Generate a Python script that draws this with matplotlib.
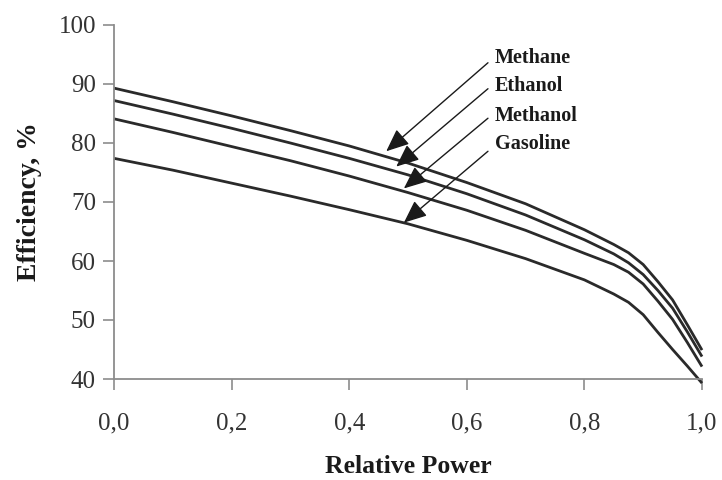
import matplotlib
matplotlib.use("Agg")
import matplotlib.pyplot as plt
from matplotlib.ticker import FuncFormatter

plt.rcParams['font.family'] = ['Liberation Serif', 'DejaVu Serif']

# Relative power (fraction of rated power)
power = [0.0, 0.1, 0.2, 0.3, 0.4, 0.5, 0.6, 0.7, 0.8, 0.85, 0.875, 0.9, 0.925, 0.95, 0.975, 1.0]

# Efficiency, % for each fuel
methane  = [89.3, 87.0, 84.6, 82.1, 79.5, 76.6, 73.3, 69.7, 65.3, 62.8, 61.4, 59.4, 56.5, 53.4, 49.2, 44.9]
ethanol  = [87.2, 84.9, 82.5, 80.0, 77.4, 74.6, 71.4, 67.8, 63.6, 61.2, 59.7, 57.7, 55.0, 52.0, 48.0, 43.8]
methanol = [84.1, 81.8, 79.4, 77.0, 74.4, 71.6, 68.6, 65.2, 61.3, 59.4, 58.1, 56.1, 53.2, 50.1, 46.2, 42.1]
gasoline = [77.4, 75.4, 73.2, 71.0, 68.7, 66.3, 63.5, 60.4, 56.8, 54.4, 53.0, 50.9, 47.9, 45.0, 42.2, 39.3]

fuel_names = ["Methane", "Ethanol", "Methanol", "Gasoline"]
series = [methane, ethanol, methanol, gasoline]

x_ticks = [0.0, 0.2, 0.4, 0.6, 0.8, 1.0]
y_ticks = [40, 50, 60, 70, 80, 90, 100]

fig = plt.figure(figsize=(7.22, 4.80), dpi=100)
ax = fig.add_axes([114 / 722, 101 / 480, 588 / 722, 354 / 480])

for values in series:
    ax.plot(power, values, color="#2a2a2a", lw=2.0, clip_on=False,
            solid_capstyle="butt", solid_joinstyle="round")

ax.set_xlim(0, 1.0)
ax.set_ylim(40, 100)
ax.set_xticks(x_ticks)
ax.set_yticks(y_ticks)
ax.xaxis.set_major_formatter(FuncFormatter(lambda v, p: f"{v:.1f}".replace(".", ",")))

for side in ("top", "right"):
    ax.spines[side].set_visible(False)
for side in ("left", "bottom"):
    ax.spines[side].set_color("#8c8c8c")
    ax.spines[side].set_linewidth(1.3)

ax.tick_params(axis="both", direction="out", length=8, width=1.2,
               color="#8c8c8c", labelsize=18, labelcolor="#333333")
ax.tick_params(axis="x", pad=16)
ax.tick_params(axis="y", pad=5)

ax.set_xlabel("Relative Power", fontsize=18.5, fontweight="bold",
              color="#1a1a1a", labelpad=15)
ax.set_ylabel("Efficiency, %", fontsize=20, fontweight="bold",
              color="#1a1a1a", labelpad=12)

# Callout arrows from each fuel name to its curve
arrow_tips = [(0.463, 78.6), (0.480, 76.0), (0.493, 72.3), (0.493, 66.5)]
arrow_tails = [(0.636, 93.6), (0.636, 89.2), (0.636, 84.2), (0.636, 78.6)]
label_pos = [(0.648, 94.4), (0.648, 89.6), (0.648, 84.6), (0.648, 79.8)]

for name, tip, tail, pos in zip(fuel_names, arrow_tips, arrow_tails, label_pos):
    ax.annotate("", xy=tip, xytext=tail,
                arrowprops=dict(arrowstyle="-|>,head_length=0.7,head_width=0.3",
                                mutation_scale=20, color="#1a1a1a", lw=1.0,
                                shrinkA=0, shrinkB=0))
    ax.text(pos[0], pos[1], name, fontsize=14.5, fontweight="bold",
            color="#1a1a1a", ha="left", va="center")

fig.savefig("out.png", dpi=100, facecolor="white")
